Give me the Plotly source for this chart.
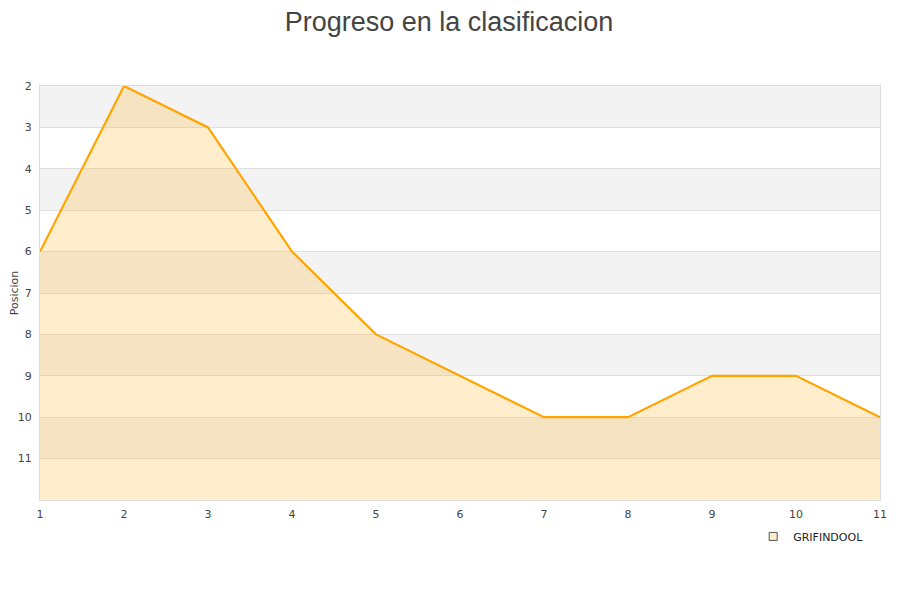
import plotly.graph_objects as go

# jornadas y posicion del equipo
jornadas = [1, 2, 3, 4, 5, 6, 7, 8, 9, 10, 11]
posicion = [6, 2, 3, 6, 8, 9, 10, 10, 9, 9, 10]
equipo = "GRIFINDOOL"

y_top, y_bottom = 2, 12
y_ticks = list(range(2, 12))

fig = go.Figure()

# alternate grey bands behind the plot
for start in range(y_top, y_bottom, 2):
    fig.add_hrect(y0=start, y1=start + 1, fillcolor="#f3f3f3",
                  line_width=0, layer="below")

# baseline at the bottom of the axis so the area fills downwards
fig.add_trace(go.Scatter(
    x=jornadas, y=[y_bottom] * len(jornadas),
    mode="lines", line=dict(width=0), hoverinfo="skip", showlegend=False,
))
fig.add_trace(go.Scatter(
    x=jornadas, y=posicion,
    mode="lines", name=equipo, showlegend=False,
    line=dict(color="#ffa500", width=2.2),
    fill="tonexty", fillcolor="rgba(255,165,0,0.2)",
))
# legend entry only: small square swatch
fig.add_trace(go.Scatter(
    x=[None], y=[None], mode="markers", name=equipo,
    marker=dict(symbol="square", size=8, color="#ffedcc",
                line=dict(color="#555", width=1)),
))

# the page puts the figure 8px in from the top-left corner
fig.update_layout(
    width=900, height=600,
    margin=dict(l=32, r=28, t=78, b=108),
    paper_bgcolor="white", plot_bgcolor="white",
    font=dict(family="DejaVu Sans", size=11, color="#444"),
    title=dict(text="Progreso en la clasificacion", x=0.49, xanchor="center",
               y=0.993, yanchor="top", pad=dict(t=0, b=0),
               font=dict(family="Liberation Sans", size=27, color="#444")),
    showlegend=True,
    legend=dict(x=0.849, y=-0.053, xanchor="left", yanchor="top",
                orientation="h", font=dict(size=11, color="#222"),
                bgcolor="rgba(0,0,0,0)"),
)
fig.update_xaxes(
    range=[1, 11], tickvals=jornadas, showgrid=False, zeroline=False,
    showline=True, linecolor="#ddd", mirror=True, ticks="",
    tickfont=dict(size=11, color="#444"), automargin=False,
    ticklabelstandoff=4,
)
fig.update_yaxes(
    range=[y_bottom, y_top], tickvals=y_ticks, showgrid=True,
    gridcolor="#e0e0e0", zeroline=False, showline=True, linecolor="#ddd",
    mirror=True,
    title=dict(text="Posicion", font=dict(size=11, color="#444"), standoff=11),
    tickfont=dict(size=11, color="#444"), automargin=False,
    ticklabelstandoff=5,
)

fig.write_html("out.html")
